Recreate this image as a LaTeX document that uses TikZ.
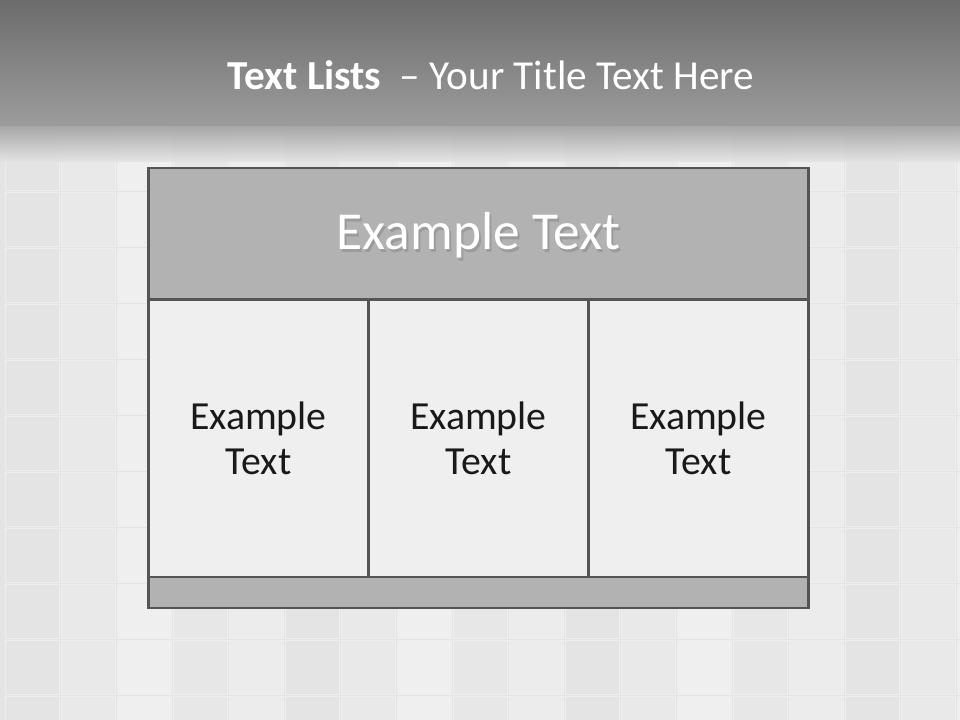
\documentclass[tikz,border=0pt]{standalone}
\usepackage{fontspec}
\setmainfont{Carlito}
\usepackage{tikz}
\usetikzlibrary{positioning,calc}
\definecolor{bandtop}{HTML}{6C6C6C}
\definecolor{bandlow}{HTML}{9C9C9C}
\definecolor{tilebg}{HTML}{E4E4E4}
\definecolor{tileedge}{HTML}{EEEEEE}
\definecolor{frameline}{HTML}{555555}
\definecolor{headfill}{HTML}{B2B2B2}
\definecolor{cellfill}{HTML}{EFEFEF}
\tikzset{
  headbox/.style={rectangle, draw=frameline, line width=2.1pt, fill=headfill,
                  minimum width=16.475cm, minimum height=3.3cm, inner sep=0pt},
  cellbox/.style={rectangle, draw=frameline, line width=2.1pt, fill=cellfill,
                  minimum width=5.5cm, minimum height=6.925cm, inner sep=0pt},
  footbox/.style={rectangle, draw=frameline, line width=2.1pt, fill=headfill,
                  minimum width=16.475cm, minimum height=0.775cm, inner sep=0pt},
  celltext/.style={align=center, font=\fontsize{28.3}{32}\selectfont, text=black!90},
  tile/.style={draw=tileedge, line width=0.6pt, fill=tilebg},
}
\begin{document}
\begin{tikzpicture}[x=0.025cm, y=-0.025cm]
        \useasboundingbox (0,0) rectangle (960,720);
        % tiled background
        \fill[tilebg] (0,0) rectangle (960,720);
        \foreach \i in {0,...,17} {
          \foreach \j in {0,...,11} {
            \pgfmathtruncatemacro{\shd}{100-mod(\i*7+\j*5,5)*10}
            \draw[tile, fill=tilebg!\shd!white]
              (\i*56+5,\j*56+80) rectangle ++(54,54);
          }
        }
        % title band
        \shade[top color=bandtop, bottom color=bandlow] (0,0) rectangle (960,126);
        \shade[top color=bandlow, bottom color=tilebg, fill opacity=0.85] (0,126) rectangle (960,162);
        \node[font=\fontsize{29.3}{34}\selectfont, text=white] (title) at (491,75)
          {\textbf{Text Lists}\ \ – Your Title Text Here};
        % table
        \node[headbox] (head) at (478.5,234) {};
        \node[font=\fontsize{38}{42}\selectfont, text=black!45, opacity=0.6] (headshadow)
          at ($(head.center)+(2,4)$) {Example Text};
        \node[font=\fontsize{38}{42}\selectfont, text=white] (headtext) at ($(head.center)+(0,1)$) {Example Text};
        \node[cellbox] (c1) at (258.5,438.5) {};
        \node[cellbox] (c2) at (478.5,438.5) {};
        \node[cellbox] (c3) at (698.5,438.5) {};
        \node[footbox] (foot) at (478.5,592.5) {};
        \node[celltext] (t1) at (c1.center) {Example\\Text};
        \node[celltext] (t2) at (c2.center) {Example\\Text};
        \node[celltext] (t3) at (c3.center) {Example\\Text};
      \end{tikzpicture}
\end{document}
